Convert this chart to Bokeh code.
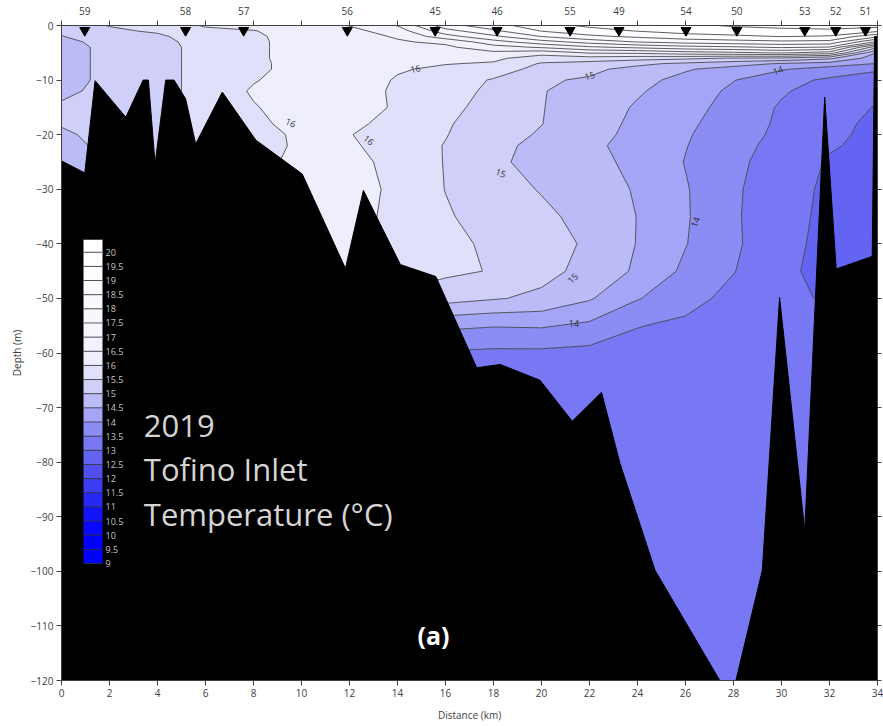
import numpy as np
from bokeh.plotting import figure
from bokeh.models import LinearAxis, FixedTicker, Range1d, Label
from bokeh.core.properties import value
from bokeh.embed import file_html
from bokeh.resources import INLINE

# ---------------- data ----------------
distance_km = [0, 2, 4, 6, 8, 10, 12, 14, 16, 18, 20, 22, 24, 26, 28, 30, 32, 34]
depth_m = [0, -1, -2, -3, -4, -5, -6, -7, -8, -10, -12, -15, -18, -20, -22, -25,
           -30, -35, -40, -45, -50, -55, -60, -70, -80, -100, -120]

# temperature profiles (deg C) at each distance, top to bottom (same order as depth_m)
t_00km = [15.30, 15.10, 14.98, 14.80, 14.70, 14.70, 14.70, 14.70, 14.70, 14.70, 14.85, 15.10, 15.05, 14.90, 14.75, 14.60,
          14.60, 14.60, 14.60, 14.60, 14.60, 14.60, 14.60, 14.60, 14.60, 14.60, 14.60]
t_02km = [15.52, 15.42, 15.35, 15.25, 15.20, 15.20, 15.20, 15.20, 15.20, 15.20, 15.20, 15.20, 15.20, 15.20, 15.20, 15.20,
          15.20, 15.20, 15.20, 15.20, 15.20, 15.20, 15.20, 15.20, 15.20, 15.20, 15.20]
t_04km = [15.70, 15.56, 15.42, 15.35, 15.30, 15.30, 15.30, 15.30, 15.30, 15.30, 15.30, 15.30, 15.30, 15.30, 15.30, 15.30,
          15.30, 15.30, 15.30, 15.30, 15.30, 15.30, 15.30, 15.30, 15.30, 15.30, 15.30]
t_06km = [16.05, 15.88, 15.75, 15.70, 15.70, 15.70, 15.70, 15.70, 15.70, 15.70, 15.70, 15.70, 15.70, 15.70, 15.70, 15.70,
          15.70, 15.70, 15.70, 15.70, 15.70, 15.70, 15.70, 15.70, 15.70, 15.70, 15.70]
t_08km = [16.15, 15.98, 15.92, 15.90, 15.90, 15.90, 15.90, 15.88, 15.88, 15.97, 16.05, 15.97, 15.92, 15.90, 15.88, 15.88,
          15.90, 15.90, 15.90, 15.90, 15.90, 15.90, 15.90, 15.90, 15.90, 15.90, 15.90]
t_10km = [16.20, 16.20, 16.20, 16.20, 16.20, 16.20, 16.20, 16.20, 16.20, 16.20, 16.20, 16.20, 16.12, 16.05, 16.05, 16.10,
          16.10, 16.10, 16.10, 16.10, 16.10, 16.10, 16.10, 16.10, 16.10, 16.10, 16.10]
t_12km = [16.52, 16.35, 16.30, 16.30, 16.30, 16.30, 16.30, 16.30, 16.30, 16.30, 16.30, 16.30, 16.10, 16.02, 16.08, 16.20,
          16.25, 16.20, 16.15, 16.10, 16.05, 16.00, 16.00, 16.00, 16.00, 16.00, 16.00]
t_14km = [17.02, 16.75, 16.55, 16.45, 16.35, 16.30, 16.25, 16.15, 16.05, 15.95, 15.90, 15.92, 15.85, 15.75, 15.75, 15.80,
          15.87, 15.85, 15.80, 15.75, 15.40, 14.60, 13.80, 13.40, 13.30, 13.30, 13.30]
t_16km = [18.30, 17.80, 17.30, 16.60, 16.40, 16.30, 16.15, 16.02, 15.90, 15.80, 15.70, 15.65, 15.55, 15.52, 15.48, 15.48,
          15.49, 15.55, 15.60, 15.60, 15.20, 14.10, 13.45, 13.30, 13.30, 13.30, 13.30]
t_18km = [18.80, 18.40, 17.90, 17.30, 16.80, 16.40, 16.10, 15.95, 15.80, 15.45, 15.40, 15.30, 15.25, 15.20, 15.05, 15.04,
          15.20, 15.30, 15.43, 15.47, 15.04, 14.03, 13.40, 13.27, 13.25, 13.25, 13.25]
t_20km = [19.30, 19.02, 18.52, 17.80, 17.05, 16.20, 15.75, 15.45, 15.30, 15.05, 15.02, 15.02, 15.01, 14.95, 14.95, 14.93,
          14.97, 15.10, 15.20, 15.15, 14.90, 14.05, 13.40, 13.27, 13.25, 13.25, 13.25]
t_22km = [19.60, 19.30, 18.90, 18.20, 17.40, 16.55, 15.80, 15.30, 15.10, 14.95, 14.85, 14.75, 14.70, 14.66, 14.60, 14.62,
          14.71, 14.85, 14.93, 14.85, 14.55, 13.90, 13.35, 13.27, 13.25, 13.25, 13.25]
t_24km = [19.80, 19.52, 19.10, 18.52, 17.60, 16.60, 15.70, 15.10, 14.85, 14.65, 14.55, 14.45, 14.40, 14.37, 14.33, 14.40,
          14.46, 14.49, 14.48, 14.42, 14.03, 13.52, 13.30, 13.27, 13.25, 13.25, 13.25]
t_26km = [19.90, 19.70, 19.30, 18.70, 17.80, 16.80, 15.60, 14.90, 14.55, 14.35, 14.28, 14.20, 14.10, 14.05, 14.02, 13.98,
          14.04, 14.05, 14.02, 13.90, 13.68, 13.40, 13.30, 13.27, 13.25, 13.25, 13.25]
t_28km = [20.05, 19.80, 19.40, 18.80, 17.90, 16.90, 15.45, 14.70, 14.30, 14.02, 13.90, 13.80, 13.75, 13.71, 13.65, 13.60,
          13.57, 13.56, 13.58, 13.52, 13.35, 13.30, 13.27, 13.25, 13.25, 13.25, 13.25]
t_30km = [20.10, 19.90, 19.52, 18.90, 18.05, 17.05, 15.40, 14.45, 14.05, 13.64, 13.55, 13.45, 13.42, 13.39, 13.35, 13.30,
          13.22, 13.20, 13.16, 13.10, 13.10, 13.15, 13.20, 13.22, 13.22, 13.22, 13.22]
t_32km = [20.20, 19.90, 19.45, 18.85, 17.95, 16.80, 15.10, 14.30, 13.75, 13.43, 13.30, 13.20, 13.13, 13.10, 13.05, 12.95,
          12.90, 12.87, 12.85, 12.85, 12.95, 13.10, 13.20, 13.22, 13.22, 13.22, 13.22]
t_34km = [20.20, 19.60, 18.60, 17.40, 15.60, 14.45, 14.20, 13.97, 13.55, 13.30, 13.15, 12.97, 12.90, 12.88, 12.86, 12.84,
          12.82, 12.80, 12.80, 12.80, 12.80, 12.90, 13.02, 13.10, 13.10, 13.10, 13.10]

# seabed outline (distance km, depth m)
bathy_km = [0.0, 0.97, 1.4, 2.68, 3.4, 3.62, 3.9, 4.34, 4.69, 5.17, 5.59, 6.7, 8.1, 10.03, 11.83, 12.58,
            14.12, 15.6, 17.3, 18.28, 19.94, 21.28, 22.5, 23.27, 24.73, 27.43, 28.1, 29.2, 29.92, 30.97,
            31.8, 32.28, 33.78, 33.88, 34.0, 34.0, 0.0]
bathy_depth = [-24.8, -27.0, -10.1, -16.8, -10.0, -10.0, -25.3, -10.0, -10.0, -13.4, -21.7, -12.2, -21.0, -27.2, -44.5, -30.2,
               -43.8, -46.0, -62.7, -62.1, -65.0, -72.5, -67.2, -80.2, -99.8, -120.0, -120.0, -99.8, -49.8, -92.5,
               -13.1, -44.6, -42.3, -2.0, -2.0, -130.0, -130.0]

# stations along the top
station_names = ["59", "58", "57", "56", "45", "46", "55", "49", "54", "50", "53", "52", "51"]
station_km = [0.97, 5.17, 7.59, 11.91, 15.57, 18.15, 21.19, 23.23, 26.02, 28.14, 30.97, 32.26, 33.5]

# contour levels and band colours
temp_levels = [9.0, 9.5, 10.0, 10.5, 11.0, 11.5, 12.0, 12.5, 13.0, 13.5, 14.0, 14.5, 15.0, 15.5,
               16.0, 16.5, 17.0, 17.5, 18.0, 18.5, 19.0, 19.5, 20.0, 20.45]
band_colors = ["#0000FF", "#0000FF", "#0808FB", "#1414F8", "#2828F5", "#3C3CF2", "#5050F0", "#6464F2",
               "#7878F5", "#8C8CF5", "#A5A5F7", "#BBBBF8", "#CFCFFA", "#E0E0FB", "#EEEEFD", "#F2F2FD",
               "#F5F5FE", "#F7F7FE", "#F9F9FF", "#FBFBFF", "#FDFDFF", "#FFFFFF", "#FFFFFF"]
legend_ticks = [9.0, 9.5, 10.0, 10.5, 11.0, 11.5, 12.0, 12.5, 13.0, 13.5, 14.0, 14.5, 15.0, 15.5,
                16.0, 16.5, 17.0, 17.5, 18.0, 18.5, 19.0, 19.5, 20.0]

# contour labels
clabel_text = ["16", "16", "16", "15", "15", "15", "14", "14", "14"]
clabel_km = [14.75, 9.55, 12.8, 22.0, 18.3, 21.3, 29.85, 26.4, 21.35]
clabel_depth = [-7.9, -17.8, -21.0, -9.2, -27.0, -46.3, -8.2, -36.0, -54.6]
clabel_angle = [10, -25, -40, 15, -20, 45, 20, 70, 0]

x_ticks = [0, 2, 4, 6, 8, 10, 12, 14, 16, 18, 20, 22, 24, 26, 28, 30, 32, 34]
y_ticks = [-120, -110, -100, -90, -80, -70, -60, -50, -40, -30, -20, -10, 0]

# ---------------- figure ----------------
FONT = "Open Sans"
AX = "#404040"

profiles = [t_00km, t_02km, t_04km, t_06km, t_08km, t_10km, t_12km, t_14km, t_16km,
            t_18km, t_20km, t_22km, t_24km, t_26km, t_28km, t_30km, t_32km, t_34km]
z = np.column_stack([np.asarray(pr, dtype=float) for pr in profiles])
y_asc = np.asarray(depth_m, dtype=float)[::-1]
z_asc = z[::-1, :]

p = figure(width=883, height=726, output_backend="svg", toolbar_location=None,
           x_range=Range1d(0, 34), y_range=Range1d(-120, 0),
           min_border_left=61, min_border_right=6, min_border_top=25, min_border_bottom=46,
           background_fill_color="white", border_fill_color="white")
p.outline_line_color = None
p.grid.visible = False

cr = p.contour(x=distance_km, y=y_asc, z=z_asc, levels=temp_levels,
               fill_color=band_colors, line_color="#363636", line_width=0.8)

p.patch(bathy_km, bathy_depth, fill_color="black", line_color="black", line_width=1)

p.scatter(station_km, [-0.9] * len(station_km), marker="inverted_triangle", size=10,
          fill_color="black", line_color="black")

p.text(x=clabel_km, y=clabel_depth, text=clabel_text, angle=clabel_angle, angle_units="deg",
       text_font=value(FONT), text_font_size="9px", text_color="#303030",
       text_align="center", text_baseline="middle")


def style(ax):
    ax.axis_line_color = AX
    ax.major_tick_line_color = AX
    ax.minor_tick_line_color = None
    ax.major_tick_in = 0
    ax.major_tick_out = 5
    ax.major_label_text_font = FONT
    ax.major_label_text_font_size = "10px"
    ax.major_label_text_color = AX
    ax.axis_label_text_font = FONT
    ax.axis_label_text_font_size = "10px"
    ax.axis_label_text_font_style = "normal"
    ax.axis_label_text_color = AX


xa = p.xaxis[0]
style(xa)
xa.ticker = FixedTicker(ticks=x_ticks)
xa.axis_label = "Distance (km)"
xa.major_label_standoff = 3
xa.axis_label_standoff = 8

ya = p.yaxis[0]
style(ya)
ya.ticker = FixedTicker(ticks=y_ticks)
ya.axis_label = "Depth (m)"
ya.major_label_standoff = 3
ya.axis_label_standoff = 4

top = LinearAxis(ticker=FixedTicker(ticks=station_km, minor_ticks=x_ticks),
                 major_label_overrides={k: n for k, n in zip(station_km, station_names)})
style(top)
top.major_tick_out = 0
top.major_tick_line_color = None
top.minor_tick_line_color = AX
top.minor_tick_out = 5
top.minor_tick_in = 0
top.major_label_standoff = 6
p.add_layout(top, "above")

right = LinearAxis(ticker=FixedTicker(ticks=y_ticks),
                   major_label_overrides={t: "" for t in y_ticks})
style(right)
right.major_tick_out = 4
right.major_label_standoff = 0
p.add_layout(right, "right")

cb = cr.construct_color_bar(
    location=(22, 117), width=19, height=324, padding=0, margin=0,
    major_label_text_font=FONT, major_label_text_font_size="9px",
    major_label_text_color="#c4c4c4", major_tick_line_color=None, label_standoff=3,
    background_fill_color=None, border_line_color=None, bar_line_color="#606060")
cb.ticker = FixedTicker(ticks=legend_ticks)
cb.major_label_overrides = {t: f"{t:g}" for t in legend_ticks}
p.add_layout(cb, "center")

for txt, yy in [("2019", -73.4), ("Tofino Inlet", -81.3), ("Temperature (\u00b0C)", -89.5)]:
    p.add_layout(Label(x=3.43, y=yy, text=txt, text_font=FONT, text_font_size="31px",
                       text_color="#d4d4d4", text_baseline="middle", text_align="left"))

p.add_layout(Label(x=15.5, y=-111.7, text="(a)", text_font=FONT, text_font_size="25px",
                   text_font_style="bold", text_color="white", text_baseline="middle",
                   text_align="center"))

open("out.html", "w").write(file_html(p, INLINE))
